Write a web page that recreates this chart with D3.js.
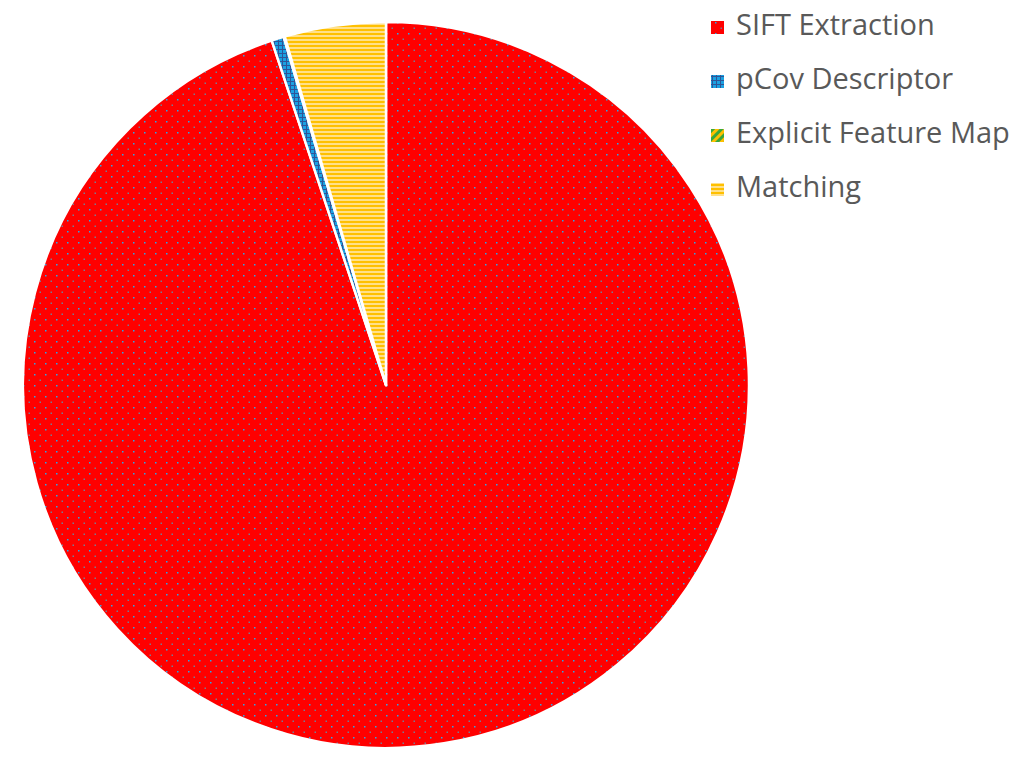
<!DOCTYPE html>
<html>
<head>
<meta charset="utf-8">
<script src="https://cdn.jsdelivr.net/npm/d3@7"></script>
<style>
  body { margin: 0; background: #fff; }
  .legendText { font-family: "Open Sans", sans-serif; font-size: 29px; fill: #595959; }
</style>
</head>
<body>
<svg id="svg_pie" width="1024" height="762"></svg>
<script>
const categories = ['SIFT Extraction', 'pCov Descriptor', 'Explicit Feature Map', 'Matching'];
const shares = [94.9, 0.55, 0.05, 4.5];

const width = 1024;
const height = 762;
const cx = 386;
const cy = 385;
const radius = 363;

const svg = d3.select('#svg_pie');
const defs = svg.append('defs');

// fill patterns, one per category
const sift = defs.append('pattern').attr('id', 'p0').attr('patternUnits', 'userSpaceOnUse')
  .attr('width', 11).attr('height', 11);
sift.append('rect').attr('width', 11).attr('height', 11).attr('fill', '#ff0000');
sift.append('rect').attr('x', 0).attr('y', 0).attr('width', 1.5).attr('height', 1.5).attr('fill', '#2aa8e8');
sift.append('rect').attr('x', 5.5).attr('y', 5.5).attr('width', 1.5).attr('height', 1.5).attr('fill', '#7a7a90');

const pcov = defs.append('pattern').attr('id', 'p1').attr('patternUnits', 'userSpaceOnUse')
  .attr('width', 4).attr('height', 4);
pcov.append('rect').attr('width', 4).attr('height', 4).attr('fill', '#1ba1e2');
pcov.append('rect').attr('width', 4).attr('height', 1).attr('fill', '#2f5597');
pcov.append('rect').attr('width', 1).attr('height', 4).attr('fill', '#2f5597');

const efm = defs.append('pattern').attr('id', 'p2').attr('patternUnits', 'userSpaceOnUse')
  .attr('width', 6).attr('height', 6).attr('patternTransform', 'rotate(45)');
efm.append('rect').attr('width', 6).attr('height', 6).attr('fill', '#ffc000');
efm.append('rect').attr('width', 3).attr('height', 6).attr('fill', '#3aa83a');

const match = defs.append('pattern').attr('id', 'p3').attr('patternUnits', 'userSpaceOnUse')
  .attr('width', 4).attr('height', 4);
match.append('rect').attr('width', 4).attr('height', 4).attr('fill', '#ffe08a');
match.append('rect').attr('width', 4).attr('height', 2).attr('fill', '#ffc000');

const fill = d3.scaleOrdinal()
  .domain(categories)
  .range(['url(#p0)', 'url(#p1)', 'url(#p2)', 'url(#p3)']);

const pie = d3.pie().sort(null).value((d, i) => shares[i]);
const arc = d3.arc().innerRadius(0).outerRadius(radius);

svg.append('g')
  .attr('transform', `translate(${cx}, ${cy})`)
  .selectAll('path')
  .data(pie(categories))
  .enter()
  .append('path')
  .attr('d', arc)
  .attr('fill', (d) => fill(d.data))
  .attr('stroke', '#fff')
  .attr('stroke-width', 2.5)
  .attr('stroke-linejoin', 'round');

// legend
const legendY = d3.scalePoint()
  .domain(categories)
  .range([35, 197]);

const legend = svg.append('g');

legend.selectAll('rect')
  .data(categories)
  .enter()
  .append('rect')
  .attr('x', 711)
  .attr('y', (d) => legendY(d) - 14)
  .attr('width', 13)
  .attr('height', 13)
  .attr('fill', (d) => fill(d));

legend.selectAll('text')
  .data(categories)
  .enter()
  .append('text')
  .text((d) => d)
  .attr('x', 736)
  .attr('y', (d) => legendY(d))
  .attr('class', 'legendText');
</script>
</body>
</html>
